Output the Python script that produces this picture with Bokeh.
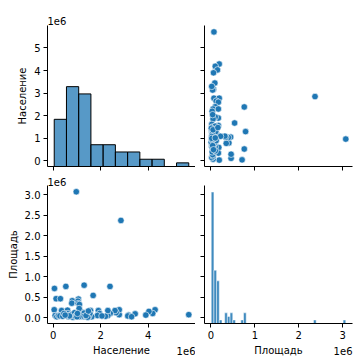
import numpy as np
from bokeh.plotting import figure
from bokeh.layouts import gridplot
from bokeh.models import (FixedTicker, CustomJSTickFormatter, Range1d, Title,
                          CustomLabelingPolicy)
from bokeh.embed import file_html
from bokeh.resources import INLINE

# ---- data ----
population = [
    0.97e6, 2.85e6, 0.53e6, 1.30e6, 2.39e6, 0.05e6, 1.68e6, 0.12e6, 0.30e6, 1.06e6,
    0.80e6, 1.04e6, 0.78e6, 1.05e6, 1.10e6,
    5.71e6, 4.29e6, 4.19e6, 4.03e6, 3.90e6, 3.45e6, 3.17e6, 3.14e6, 3.30e6,
    2.78e6, 2.78e6, 2.65e6, 2.60e6, 2.40e6, 2.30e6, 2.30e6, 2.20e6,
    1.90e6, 1.95e6, 1.86e6, 1.62e6, 2.05e6,
    1.57e6, 1.50e6, 1.54e6, 1.24e6, 1.24e6, 1.28e6, 1.15e6, 1.12e6, 1.20e6, 1.35e6,
    1.40e6, 1.45e6, 1.30e6, 1.18e6, 1.08e6, 1.38e6, 1.48e6, 1.09e6,
    0.60e6, 0.58e6, 0.62e6, 0.65e6, 0.70e6, 0.72e6, 0.75e6, 0.80e6, 0.83e6, 0.88e6,
    0.90e6, 0.93e6, 0.98e6, 1.00e6, 1.02e6, 0.68e6,
    0.04e6, 0.35e6, 0.08e6, 0.15e6, 0.22e6, 0.28e6, 0.40e6, 0.45e6, 0.50e6,
]
area = [
    3.07e6, 2.37e6, 0.76e6, 0.79e6, 0.76e6, 0.71e6, 0.54e6, 0.46e6, 0.46e6, 0.45e6,
    0.41e6, 0.40e6, 0.35e6, 0.34e6, 0.32e6,
    0.07e6, 0.19e6, 0.10e6, 0.15e6, 0.06e6, 0.09e6, 0.06e6, 0.04e6, 0.02e6,
    0.07e6, 0.19e6, 0.12e6, 0.17e6, 0.10e6, 0.05e6, 0.17e6, 0.03e6,
    0.17e6, 0.10e6, 0.05e6, 0.02e6, 0.04e6,
    0.17e6, 0.03e6, 0.10e6, 0.05e6, 0.12e6, 0.02e6, 0.15e6, 0.06e6, 0.03e6, 0.04e6,
    0.04e6, 0.01e6, 0.11e6, 0.03e6, 0.02e6, 0.05e6, 0.16e6, 0.22e6,
    0.18e6, 0.04e6, 0.10e6, 0.02e6, 0.06e6, 0.03e6, 0.03e6, 0.08e6, 0.008e6, 0.05e6,
    0.12e6, 0.03e6, 0.06e6, 0.02e6, 0.10e6, 0.04e6,
    0.19e6, 0.17e6, 0.05e6, 0.02e6, 0.05e6, 0.04e6, 0.03e6, 0.10e6, 0.06e6,
]

POP_NAME = "Население"
AREA_NAME = "Площадь"
pop_y_ticks = [0, 1e6, 2e6, 3e6, 4e6, 5e6]
pop_x_ticks = [0, 2e6, 4e6]
area_y_ticks = [0, 0.5e6, 1e6, 1.5e6, 2e6, 2.5e6, 3e6]
area_x_ticks = [0, 1e6, 2e6, 3e6]
offset_text = "1e6"
pop_bins = 11
area_bins = 50

FONT = "DejaVu Sans"
BLUE = "#1f77b4"


def padded(vals, frac=0.05):
    lo, hi = min(vals), max(vals)
    pad = (hi - lo) * frac
    return lo - pad, hi + pad


pop_lo, pop_hi = padded(population)
area_lo, area_hi = padded(area)

pop_counts, pop_edges = np.histogram(population, bins=pop_bins)
area_counts, area_edges = np.histogram(area, bins=area_bins)
hist_top = 1.05 * max(pop_counts.max(), area_counts.max())


def fmt(digits):
    return CustomJSTickFormatter(code="return (tick/1e6).toFixed(%d);" % digits)


def style_axis(ax, ticks, digits, show_labels, label=None):
    ax.ticker = FixedTicker(ticks=ticks)
    ax.formatter = fmt(digits)
    ax.axis_line_color = "black"
    ax.axis_line_width = 1
    ax.major_tick_line_color = "black"
    ax.major_tick_line_width = 1
    ax.major_tick_in = 0
    ax.major_tick_out = 4
    ax.minor_tick_line_color = None
    ax.major_label_text_font = FONT
    ax.major_label_text_color = "black"
    ax.axis_label_text_font = FONT
    ax.axis_label_text_font_size = "10px"
    ax.axis_label_text_font_style = "normal"
    ax.axis_label_text_color = "black"
    ax.axis_label_standoff = 3
    if show_labels:
        ax.major_label_text_font_size = "10px"
        ax.major_label_standoff = 3
    else:
        ax.major_label_text_font_size = "0px"
        ax.major_label_standoff = 0
        ax.major_label_policy = CustomLabelingPolicy(
            code="for (let i = 0; i < indices.size; i++) { indices.unset(i) } return indices")
    if label:
        ax.axis_label = label


def make_fig(w, h, xr, yr, bl, br_, bt, bb):
    p = figure(width=w, height=h, x_range=xr, y_range=yr, toolbar_location=None,
               output_backend="svg", tools="",
               min_border_left=bl, min_border_right=br_,
               min_border_top=bt, min_border_bottom=bb)
    p.outline_line_color = None
    p.xgrid.visible = False
    p.ygrid.visible = False
    p.background_fill_color = "white"
    p.border_fill_color = "white"
    return p


def style_title(t, align, standoff, valign="bottom"):
    t.text = offset_text
    t.align = align
    t.vertical_align = valign
    t.text_font = FONT
    t.text_font_size = "10px"
    t.text_font_style = "normal"
    t.text_color = "black"
    t.offset = 0
    try:
        t.standoff = standoff
    except Exception:
        t.standoff = 0


def bottom_offset_title():
    t = Title(text=offset_text)
    style_title(t, "right", -24, "top")
    return t


W_L, W_R = 195, 164
H_T, H_B = 172, 186

# top-left: population histogram
tl = make_fig(W_L, H_T, Range1d(pop_lo, pop_hi), Range1d(pop_lo, pop_hi), 47, 0, 25, 6)
tl.extra_y_ranges = {"hist": Range1d(0, hist_top)}
tl.quad(left=pop_edges[:-1], right=pop_edges[1:], bottom=0, top=pop_counts,
        y_range_name="hist", fill_color=BLUE, fill_alpha=0.75,
        line_color="black", line_width=1)
style_axis(tl.xaxis[0], pop_x_ticks, 0, False)
style_axis(tl.yaxis[0], pop_y_ticks, 0, True, POP_NAME)
style_title(tl.title, "left", 2)

# top-right: area (x) vs population (y)
tr = make_fig(W_R, H_T, Range1d(area_lo, area_hi), Range1d(pop_lo, pop_hi), 9, 7, 25, 6)
tr.scatter(area, population, size=6.5, fill_color=BLUE, line_color="white", line_width=0.6)
style_axis(tr.xaxis[0], area_x_ticks, 0, False)
style_axis(tr.yaxis[0], pop_y_ticks, 0, False)

# bottom-left: population (x) vs area (y)
bl = make_fig(W_L, H_B, Range1d(pop_lo, pop_hi), Range1d(area_lo, area_hi), 47, 0, 13, 32)
bl.scatter(population, area, size=6.5, fill_color=BLUE, line_color="white", line_width=0.6)
style_axis(bl.xaxis[0], pop_x_ticks, 0, True, POP_NAME)
style_axis(bl.yaxis[0], area_y_ticks, 1, True, AREA_NAME)
style_title(bl.title, "left", -1)
bl.add_layout(bottom_offset_title(), "below")

# bottom-right: area histogram
br = make_fig(W_R, H_B, Range1d(area_lo, area_hi), Range1d(area_lo, area_hi), 9, 7, 13, 32)
br.extra_y_ranges = {"hist": Range1d(0, hist_top)}
br.quad(left=area_edges[:-1], right=area_edges[1:], bottom=0, top=area_counts,
        y_range_name="hist", fill_color=BLUE, fill_alpha=0.85,
        line_color="white", line_alpha=0.6, line_width=0.8)
style_axis(br.xaxis[0], area_x_ticks, 0, True, AREA_NAME)
style_axis(br.yaxis[0], area_y_ticks, 1, False)
br.add_layout(bottom_offset_title(), "below")

layout = gridplot([[tl, tr], [bl, br]], toolbar_location=None)

open("out.html", "w").write(file_html(layout, INLINE))
